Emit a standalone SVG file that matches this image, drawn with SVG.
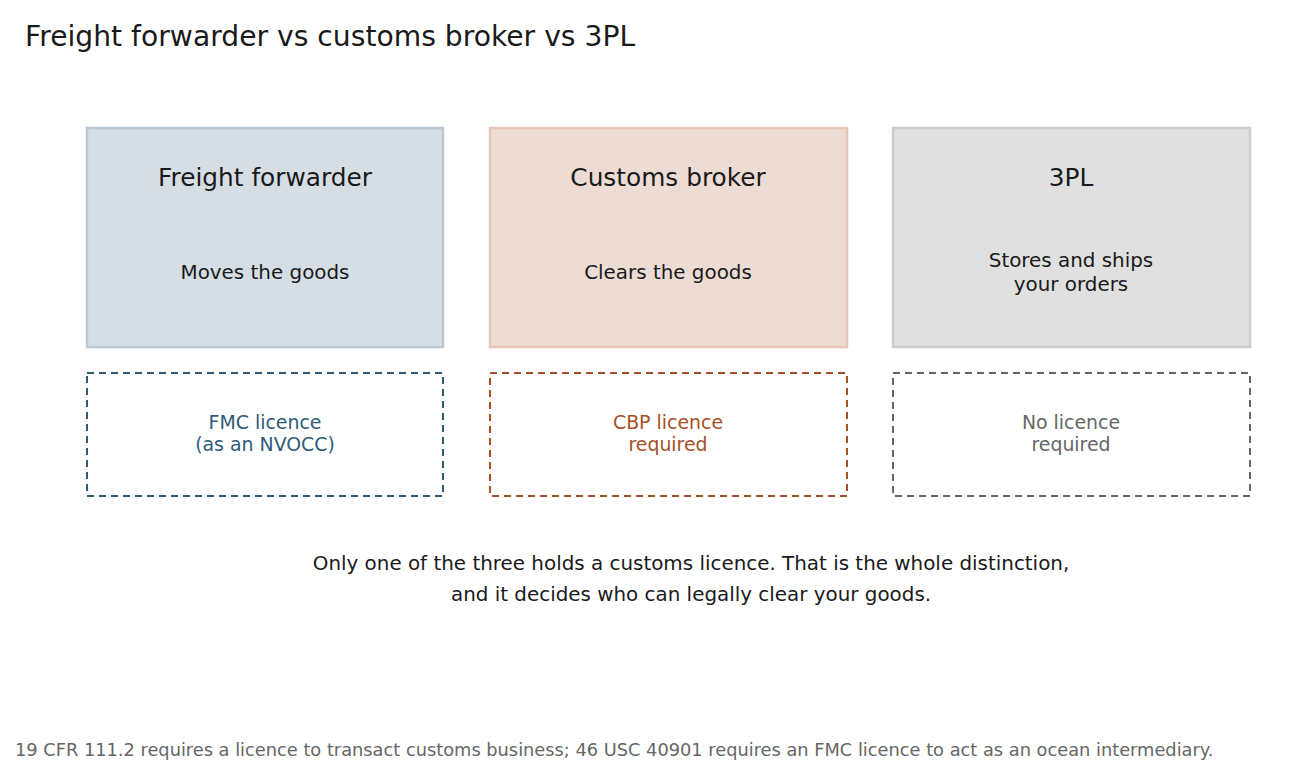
<svg xmlns="http://www.w3.org/2000/svg" width="1290" height="765" viewBox="0 0 1290 765">
<style>
text{font-family:"DejaVu Sans",sans-serif;text-anchor:middle}
.t{font-size:24.8px;fill:#1a1a1a}
.s{font-size:19.9px;fill:#1a1a1a}
.l{font-size:18.9px}
.box{stroke-width:2.5}
.d{fill:#fff;stroke-width:2;stroke-dasharray:7,5}
</style>
<rect width="1290" height="765" fill="#fff"/>
<text x="25" y="46" style="text-anchor:start;font-size:28.2px;fill:#1a1a1a">Freight forwarder vs customs broker vs 3PL</text>
<g id="ff"><rect class="box" x="87" y="128" width="356" height="219" fill="#d5dee5" stroke="#bac8d3"/><text class="t" x="265" y="186">Freight forwarder</text><text class="s" x="265" y="279">Moves the goods</text></g>
<g id="cb"><rect class="box" x="490" y="128" width="357" height="219" fill="#eddcd4" stroke="#e6c7b7"/><text class="t" x="668" y="186">Customs broker</text><text class="s" x="668" y="279">Clears the goods</text></g>
<g id="tpl"><rect class="box" x="893" y="128" width="357" height="219" fill="#e0e0e0" stroke="#cccccc"/><text class="t" x="1071" y="186">3PL</text><text class="s" x="1071" y="267">Stores and ships</text><text class="s" x="1071" y="291">your orders</text></g>
<g id="ffl"><rect class="d" x="87" y="373" width="356" height="123" stroke="#2e5b7a"/><text class="l" x="265" y="429" fill="#2e5b7a">FMC licence</text><text class="l" x="265" y="451" fill="#2e5b7a">(as an NVOCC)</text></g>
<g id="cbl"><rect class="d" x="490" y="373" width="357" height="123" stroke="#a84f27"/><text class="l" x="668" y="429" fill="#a84f27">CBP licence</text><text class="l" x="668" y="451" fill="#a84f27">required</text></g>
<g id="tpll"><rect class="d" x="893" y="373" width="357" height="123" stroke="#666"/><text class="l" x="1071" y="429" fill="#666">No licence</text><text class="l" x="1071" y="451" fill="#666">required</text></g>
<g id="connectors"/>
<text class="s" x="691" y="570">Only one of the three holds a customs licence. That is the whole distinction,</text>
<text class="s" x="691" y="601">and it decides who can legally clear your goods.</text>
<text x="15" y="756" style="text-anchor:start;font-size:17.8px;fill:#666">19 CFR 111.2 requires a licence to transact customs business; 46 USC 40901 requires an FMC licence to act as an ocean intermediary.</text>
</svg>
